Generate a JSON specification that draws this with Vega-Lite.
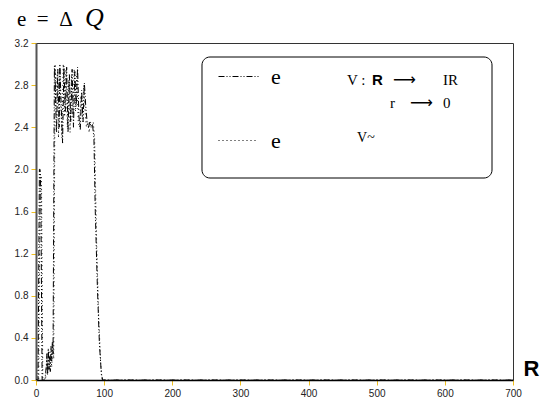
{
  "$schema": "https://vega.github.io/schema/vega-lite/v6.json",
  "width": 477,
  "height": 337,
  "autosize": {"type": "none"},
  "padding": {"left": 36, "top": 43, "right": 31, "bottom": 26},
  "background": "white",
  "title": {
    "text": "e\u00a0\u00a0=\u00a0\u00a0Δ",
    "anchor": "start",
    "frame": "group",
    "font": "Liberation Serif",
    "fontSize": 21,
    "fontWeight": "normal",
    "color": "black",
    "dx": -19,
    "dy": 54,
    "baseline": "alphabetic",
    "offset": 12
  },
  "data": {
    "values": [
      {"x": 0, "e": 0, "series": "V : R → IR"},
      {"x": 3, "e": 0, "series": "V : R → IR"},
      {"x": 5, "e": 2.0, "series": "V : R → IR"},
      {"x": 6, "e": 2.0, "series": "V : R → IR"},
      {"x": 7, "e": 1.8, "series": "V : R → IR"},
      {"x": 9, "e": 0, "series": "V : R → IR"},
      {"x": 13, "e": 0, "series": "V : R → IR"},
      {"x": 15, "e": 0.12, "series": "V : R → IR"},
      {"x": 16, "e": 0.25, "series": "V : R → IR"},
      {"x": 17, "e": 0.05, "series": "V : R → IR"},
      {"x": 18, "e": 0.3, "series": "V : R → IR"},
      {"x": 19, "e": 0.1, "series": "V : R → IR"},
      {"x": 20, "e": 0.22, "series": "V : R → IR"},
      {"x": 21, "e": 0.08, "series": "V : R → IR"},
      {"x": 22, "e": 0.32, "series": "V : R → IR"},
      {"x": 23, "e": 0.18, "series": "V : R → IR"},
      {"x": 24, "e": 0.36, "series": "V : R → IR"},
      {"x": 25, "e": 0.25, "series": "V : R → IR"},
      {"x": 27, "e": 2.98, "series": "V : R → IR"},
      {"x": 28, "e": 2.9, "series": "V : R → IR"},
      {"x": 30, "e": 2.35, "series": "V : R → IR"},
      {"x": 32, "e": 2.95, "series": "V : R → IR"},
      {"x": 34, "e": 2.4, "series": "V : R → IR"},
      {"x": 35, "e": 3.0, "series": "V : R → IR"},
      {"x": 37, "e": 2.6, "series": "V : R → IR"},
      {"x": 39, "e": 2.25, "series": "V : R → IR"},
      {"x": 41, "e": 2.98, "series": "V : R → IR"},
      {"x": 43, "e": 2.55, "series": "V : R → IR"},
      {"x": 45, "e": 2.97, "series": "V : R → IR"},
      {"x": 47, "e": 2.35, "series": "V : R → IR"},
      {"x": 49, "e": 2.9, "series": "V : R → IR"},
      {"x": 51, "e": 2.45, "series": "V : R → IR"},
      {"x": 53, "e": 2.95, "series": "V : R → IR"},
      {"x": 55, "e": 2.4, "series": "V : R → IR"},
      {"x": 57, "e": 2.93, "series": "V : R → IR"},
      {"x": 59, "e": 2.6, "series": "V : R → IR"},
      {"x": 61, "e": 2.97, "series": "V : R → IR"},
      {"x": 63, "e": 2.5, "series": "V : R → IR"},
      {"x": 65, "e": 2.38, "series": "V : R → IR"},
      {"x": 67, "e": 2.75, "series": "V : R → IR"},
      {"x": 69, "e": 2.45, "series": "V : R → IR"},
      {"x": 71, "e": 2.82, "series": "V : R → IR"},
      {"x": 73, "e": 2.6, "series": "V : R → IR"},
      {"x": 75, "e": 2.45, "series": "V : R → IR"},
      {"x": 77, "e": 2.4, "series": "V : R → IR"},
      {"x": 79, "e": 2.45, "series": "V : R → IR"},
      {"x": 81, "e": 2.4, "series": "V : R → IR"},
      {"x": 83, "e": 2.42, "series": "V : R → IR"},
      {"x": 85, "e": 2.3, "series": "V : R → IR"},
      {"x": 87, "e": 1.6, "series": "V : R → IR"},
      {"x": 90, "e": 0.9, "series": "V : R → IR"},
      {"x": 93, "e": 0.35, "series": "V : R → IR"},
      {"x": 96, "e": 0.05, "series": "V : R → IR"},
      {"x": 98, "e": 0, "series": "V : R → IR"},
      {"x": 300, "e": 0, "series": "V : R → IR"},
      {"x": 700, "e": 0, "series": "V : R → IR"},
      {"x": 0, "e": 0, "series": "V~"},
      {"x": 4, "e": 0, "series": "V~"},
      {"x": 6, "e": 1.95, "series": "V~"},
      {"x": 8, "e": 1.95, "series": "V~"},
      {"x": 10, "e": 0, "series": "V~"},
      {"x": 14, "e": 0, "series": "V~"},
      {"x": 16, "e": 0.2, "series": "V~"},
      {"x": 17, "e": 0.05, "series": "V~"},
      {"x": 19, "e": 0.28, "series": "V~"},
      {"x": 20, "e": 0.1, "series": "V~"},
      {"x": 22, "e": 0.25, "series": "V~"},
      {"x": 23, "e": 0.12, "series": "V~"},
      {"x": 25, "e": 0.35, "series": "V~"},
      {"x": 26, "e": 0.2, "series": "V~"},
      {"x": 28, "e": 3.0, "series": "V~"},
      {"x": 29, "e": 2.6, "series": "V~"},
      {"x": 31, "e": 2.9, "series": "V~"},
      {"x": 33, "e": 2.3, "series": "V~"},
      {"x": 35, "e": 2.95, "series": "V~"},
      {"x": 36, "e": 2.7, "series": "V~"},
      {"x": 38, "e": 2.3, "series": "V~"},
      {"x": 40, "e": 3.0, "series": "V~"},
      {"x": 42, "e": 2.5, "series": "V~"},
      {"x": 44, "e": 2.95, "series": "V~"},
      {"x": 46, "e": 2.4, "series": "V~"},
      {"x": 48, "e": 2.85, "series": "V~"},
      {"x": 50, "e": 2.35, "series": "V~"},
      {"x": 52, "e": 2.9, "series": "V~"},
      {"x": 54, "e": 2.5, "series": "V~"},
      {"x": 56, "e": 2.95, "series": "V~"},
      {"x": 58, "e": 2.55, "series": "V~"},
      {"x": 60, "e": 2.9, "series": "V~"},
      {"x": 62, "e": 2.45, "series": "V~"},
      {"x": 64, "e": 2.4, "series": "V~"},
      {"x": 66, "e": 2.7, "series": "V~"},
      {"x": 68, "e": 2.5, "series": "V~"},
      {"x": 70, "e": 2.8, "series": "V~"},
      {"x": 72, "e": 2.55, "series": "V~"},
      {"x": 74, "e": 2.4, "series": "V~"},
      {"x": 76, "e": 2.45, "series": "V~"},
      {"x": 78, "e": 2.35, "series": "V~"},
      {"x": 80, "e": 2.45, "series": "V~"},
      {"x": 82, "e": 2.4, "series": "V~"},
      {"x": 84, "e": 2.45, "series": "V~"},
      {"x": 86, "e": 2.3, "series": "V~"},
      {"x": 89, "e": 1.3, "series": "V~"},
      {"x": 92, "e": 0.6, "series": "V~"},
      {"x": 95, "e": 0.15, "series": "V~"},
      {"x": 97, "e": 0, "series": "V~"},
      {"x": 400, "e": 0, "series": "V~"},
      {"x": 700, "e": 0, "series": "V~"}
    ]
  },
  "layer": [
    {
      "mark": {"type": "line", "color": "black", "strokeWidth": 1, "clip": true},
      "encoding": {
        "x": {
          "field": "x", "type": "quantitative",
          "scale": {"domain": [0, 700], "nice": false, "zero": false},
          "axis": {
            "title": "R",
            "values": [0, 50, 100, 150, 200, 250, 300, 350, 400, 450, 500, 550, 600, 650, 700],
            "labelExpr": "datum.value % 100 == 0 ? datum.label : ''",
            "tickSize": {"condition": {"test": "datum.value % 100 == 0", "value": 5}, "value": 3}
          }
        },
        "y": {
          "field": "e", "type": "quantitative",
          "scale": {"domain": [0, 3.2], "nice": false, "zero": false},
          "axis": {
            "title": null,
            "values": [0, 0.2, 0.4, 0.6, 0.8, 1.0, 1.2, 1.4, 1.6, 1.8, 2.0, 2.2, 2.4, 2.6, 2.8, 3.0, 3.2],
            "labelExpr": "round(datum.value * 10) % 4 == 0 ? format(datum.value, '.1f') : ''",
            "tickSize": {"condition": {"test": "round(datum.value * 10) % 4 == 0", "value": 5}, "value": 3}
          }
        },
        "strokeDash": {
          "field": "series", "type": "nominal",
          "scale": {"domain": ["V : R → IR", "V~"], "range": [[6, 2, 1, 2, 1, 2], [1, 3]]},
          "legend": {
            "orient": "none",
            "legendX": 182,
            "legendY": 13,
            "title": null,
            "symbolType": "stroke",
            "symbolSize": 1600,
            "symbolStrokeWidth": 1,
            "symbolStrokeColor": "black",
            "labelExpr": "'e'",
            "labelFont": "Liberation Serif",
            "labelFontSize": 22,
            "labelColor": "black",
            "labelOffset": 12,
            "rowPadding": 32,
            "padding": 0
          }
        }
      }
    },
    {
      "data": {"values": [{}]},
      "mark": {"type": "rect", "fill": null, "fillOpacity": 0, "stroke": "black", "strokeWidth": 1, "cornerRadius": 8},
      "encoding": {
        "x": {"datum": 243.6, "type": "quantitative"},
        "x2": {"datum": 669.2},
        "y": {"datum": 3.067, "type": "quantitative"},
        "y2": {"datum": 1.918}
      }
    },
    {
      "data": {"values": [{}]},
      "mark": {"type": "text", "text": "V :", "font": "Liberation Serif", "fontSize": 15, "align": "left", "baseline": "alphabetic", "color": "black"},
      "encoding": {"x": {"datum": 456.4, "type": "quantitative"}, "y": {"datum": 2.801, "type": "quantitative"}}
    },
    {
      "data": {"values": [{}]},
      "mark": {"type": "text", "text": "R", "font": "Liberation Sans", "fontWeight": "bold", "fontSize": 15, "align": "left", "baseline": "alphabetic", "color": "black"},
      "encoding": {"x": {"datum": 493.1, "type": "quantitative"}, "y": {"datum": 2.801, "type": "quantitative"}}
    },
    {
      "data": {"values": [{}]},
      "mark": {"type": "text", "text": "⟶", "font": "DejaVu Sans", "fontSize": 16, "align": "left", "baseline": "alphabetic", "color": "black"},
      "encoding": {"x": {"datum": 523.9, "type": "quantitative"}, "y": {"datum": 2.801, "type": "quantitative"}}
    },
    {
      "data": {"values": [{}]},
      "mark": {"type": "text", "text": "IR", "font": "Liberation Serif", "fontSize": 15, "align": "left", "baseline": "alphabetic", "color": "black"},
      "encoding": {"x": {"datum": 597.3, "type": "quantitative"}, "y": {"datum": 2.801, "type": "quantitative"}}
    },
    {
      "data": {"values": [{}]},
      "mark": {"type": "text", "text": "r", "font": "Liberation Serif", "fontSize": 15, "align": "left", "baseline": "alphabetic", "color": "black"},
      "encoding": {"x": {"datum": 519.5, "type": "quantitative"}, "y": {"datum": 2.583, "type": "quantitative"}}
    },
    {
      "data": {"values": [{}]},
      "mark": {"type": "text", "text": "⟶", "font": "DejaVu Sans", "fontSize": 16, "align": "left", "baseline": "alphabetic", "color": "black"},
      "encoding": {"x": {"datum": 548.8, "type": "quantitative"}, "y": {"datum": 2.583, "type": "quantitative"}}
    },
    {
      "data": {"values": [{}]},
      "mark": {"type": "text", "text": "0", "font": "Liberation Serif", "fontSize": 15, "align": "left", "baseline": "alphabetic", "color": "black"},
      "encoding": {"x": {"datum": 597.3, "type": "quantitative"}, "y": {"datum": 2.583, "type": "quantitative"}}
    },
    {
      "data": {"values": [{}]},
      "mark": {"type": "text", "text": "V~", "font": "Liberation Serif", "fontSize": 14, "align": "left", "baseline": "alphabetic", "color": "black"},
      "encoding": {"x": {"datum": 471.1, "type": "quantitative"}, "y": {"datum": 2.26, "type": "quantitative"}}
    },
    {
      "data": {"values": [{}]},
      "mark": {"type": "text", "text": "Q", "font": "Liberation Serif", "fontStyle": "italic", "fontSize": 26, "align": "left", "baseline": "alphabetic", "color": "black", "clip": false},
      "encoding": {"x": {"datum": 71.9, "type": "quantitative"}, "y": {"datum": 3.361, "type": "quantitative"}}
    }
  ],
  "config": {
    "view": {"stroke": "#333", "strokeWidth": 1},
    "axis": {
      "grid": false,
      "labelFont": "Liberation Sans",
      "labelFontSize": 10,
      "labelColor": "#222",
      "tickColor": "#f0c020",
      "tickWidth": 1,
      "labelPadding": 3
    },
    "axisY": {"domainColor": "#555", "domainWidth": 2},
    "axisX": {
      "domainColor": "black",
      "domainWidth": 1.5,
      "labelFlush": false,
      "titleFont": "Liberation Sans",
      "titleFontSize": 22,
      "titleFontWeight": "bold",
      "titleColor": "black",
      "titleX": 495,
      "titleY": -5,
      "titleAlign": "center",
      "titleBaseline": "alphabetic",
      "titleAnchor": null
    }
  }
}
